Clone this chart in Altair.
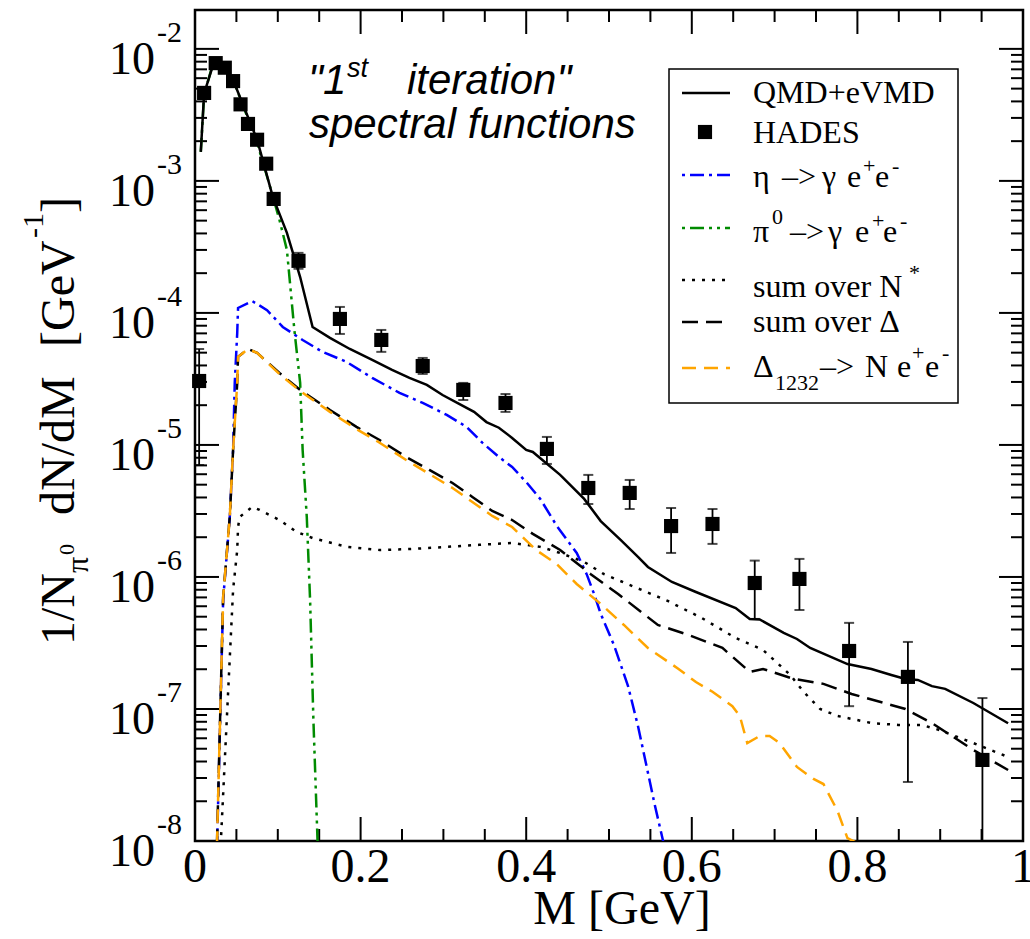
import altair as alt
import pandas as pd

# ---------------- data ----------------
# HADES data points
hades_M = [0.005, 0.011, 0.025, 0.036, 0.046, 0.055, 0.064, 0.075, 0.086, 0.095, 0.125,
           0.175, 0.225, 0.275, 0.324, 0.375, 0.425, 0.475, 0.525, 0.575, 0.625,
           0.676, 0.730, 0.790, 0.861, 0.951]
hades_v = [3.05e-5, 4.64e-3, 7.8e-3, 7.2e-3, 5.7e-3, 3.8e-3, 2.7e-3, 2.05e-3, 1.35e-3, 7.3e-4, 2.48e-4,
           9.0e-5, 6.24e-5, 3.96e-5, 2.61e-5, 2.08e-5, 9.33e-6, 4.72e-6, 4.33e-6, 2.43e-6, 2.52e-6,
           9.0e-7, 9.66e-7, 2.75e-7, 1.75e-7, 4.11e-8]
hades_lo = [7.05e-6, 4.64e-3, 7.8e-3, 7.2e-3, 5.7e-3, 3.8e-3, 2.7e-3, 2.05e-3, 1.35e-3, 7.0e-4, 2.16e-4,
            6.93e-5, 5.07e-5, 3.45e-5, 2.19e-5, 1.78e-5, 7.18e-6, 3.57e-6, 3.27e-6, 1.52e-6, 1.78e-6,
            4.81e-7, 5.62e-7, 1.05e-7, 2.8e-8, 1.0e-9]
hades_hi = [5.33e-5, 4.64e-3, 7.8e-3, 7.2e-3, 5.7e-3, 3.8e-3, 2.7e-3, 2.05e-3, 1.35e-3, 7.6e-4, 2.85e-4,
            1.11e-4, 7.43e-5, 4.56e-5, 2.95e-5, 2.43e-5, 1.15e-5, 5.93e-6, 5.43e-6, 3.33e-6, 3.27e-6,
            1.33e-6, 1.37e-6, 4.49e-7, 3.22e-7, 1.21e-7]

# QMD+eVMD (total)
qmd_M = [0.007, 0.011, 0.022, 0.034, 0.046, 0.075, 0.094, 0.111, 0.127, 0.142, 0.163, 0.187, 0.214,
         0.238, 0.259, 0.280, 0.299, 0.319, 0.337, 0.352, 0.367, 0.383, 0.400, 0.408, 0.441,
         0.470, 0.490, 0.514, 0.535, 0.547, 0.576, 0.605, 0.653, 0.670, 0.682, 0.711, 0.727,
         0.743, 0.788, 0.817, 0.841, 0.858, 0.873, 0.890, 0.906, 0.940, 0.982]
qmd_v = [1.66e-3, 4.6e-3, 7.6e-3, 7.0e-3, 5.82e-3, 2.05e-3, 7.57e-4, 4.04e-4, 1.87e-4, 7.83e-5,
         6.47e-5, 5.33e-5, 4.41e-5, 3.70e-5, 3.22e-5, 2.85e-5, 2.39e-5, 2.05e-5, 1.78e-5, 1.49e-5,
         1.35e-5, 1.13e-5, 9.16e-6, 8.85e-6, 5.93e-6, 3.90e-6, 2.65e-6, 1.91e-6, 1.42e-6, 1.19e-6,
         9.16e-7, 7.69e-7, 5.82e-7, 4.81e-7, 4.76e-7, 3.77e-7, 3.39e-7, 2.90e-7, 2.19e-7, 2.01e-7,
         1.81e-7, 1.69e-7, 1.66e-7, 1.49e-7, 1.42e-7, 1.11e-7, 7.8e-8]

# eta -> gamma e+ e-
eta_M = [0.0265, 0.034, 0.042, 0.046, 0.048, 0.051, 0.052, 0.069, 0.087, 0.106, 0.130, 0.154,
         0.183, 0.214, 0.247, 0.275, 0.304, 0.328, 0.347, 0.367, 0.383, 0.401, 0.417, 0.437,
         0.461, 0.473, 0.482, 0.490, 0.506, 0.523, 0.535, 0.543, 0.555, 0.567]
eta_v = [8.5e-9, 6.70e-7, 2.85e-6, 9.16e-6, 2.95e-5, 7.05e-5, 1.09e-4, 1.23e-4, 1.05e-4, 7.83e-5,
         6.24e-5, 5.07e-5, 4.26e-5, 3.22e-5, 2.48e-5, 2.08e-5, 1.69e-5, 1.37e-5, 1.04e-5, 8.11e-6,
         6.81e-6, 5.15e-6, 3.90e-6, 2.43e-6, 1.52e-6, 1.05e-6, 7.43e-7, 5.25e-7, 3.05e-7, 1.49e-7,
         7.43e-8, 4.33e-8, 1.91e-8, 9.0e-9]

# pi0 -> gamma e+ e-
pi0_M = [0.007, 0.011, 0.022, 0.033, 0.046, 0.060, 0.075, 0.090, 0.102, 0.111, 0.120, 0.127,
         0.130, 0.135, 0.139, 0.143, 0.148]
pi0_v = [1.66e-3, 4.5e-3, 7.83e-3, 7.18e-3, 5.82e-3, 3.45e-3, 1.94e-3, 9.33e-4, 5.07e-4, 3.00e-4,
         7.43e-5, 2.95e-5, 9.16e-6, 2.85e-6, 6.70e-7, 8.26e-8, 1.0e-8]

# sum over N*
nstar_M = [0.031, 0.046, 0.051, 0.052, 0.054, 0.069, 0.078, 0.102, 0.123, 0.142, 0.183, 0.223,
           0.263, 0.304, 0.343, 0.383, 0.417, 0.441, 0.470, 0.494, 0.531, 0.571, 0.612, 0.653,
           0.686, 0.702, 0.719, 0.735, 0.755, 0.776, 0.817, 0.849, 0.878, 0.899, 0.940, 0.982]
nstar_v = [9.3e-9, 7.98e-7, 1.60e-6, 2.39e-6, 2.85e-6, 3.39e-6, 3.22e-6, 2.70e-6, 2.19e-6, 1.97e-6,
           1.69e-6, 1.60e-6, 1.63e-6, 1.69e-6, 1.75e-6, 1.81e-6, 1.69e-6, 1.52e-6, 1.30e-6, 1.05e-6,
           8.39e-7, 6.58e-7, 4.89e-7, 3.45e-7, 2.80e-7, 2.27e-7, 1.81e-7, 1.35e-7, 1.00e-7, 8.85e-8,
           7.83e-8, 7.57e-8, 7.57e-8, 6.93e-8, 5.52e-8, 4.33e-8]

# sum over Delta
dsum_M = [0.0265, 0.034, 0.042, 0.046, 0.051, 0.052, 0.064, 0.075, 0.102, 0.127, 0.163, 0.195,
          0.223, 0.255, 0.283, 0.311, 0.335, 0.359, 0.383, 0.408, 0.441, 0.478, 0.511, 0.559,
          0.596, 0.637, 0.670, 0.686, 0.723, 0.759, 0.793, 0.858, 0.890, 0.940, 0.982]
dsum_v = [9.3e-9, 7.05e-7, 2.85e-6, 9.16e-6, 2.95e-5, 4.65e-5, 5.33e-5, 4.98e-5, 3.51e-5, 2.61e-5,
          1.84e-5, 1.37e-5, 1.09e-5, 8.11e-6, 6.47e-6, 5.15e-6, 4.04e-6, 3.16e-6, 2.70e-6, 2.12e-6,
          1.60e-6, 1.05e-6, 7.43e-7, 4.33e-7, 3.64e-7, 2.90e-7, 1.91e-7, 2.01e-7, 1.69e-7, 1.55e-7,
          1.30e-7, 1.00e-7, 7.83e-8, 4.89e-8, 3.45e-8]

# Delta(1232) -> N e+ e-
d1232_M = [0.0265, 0.034, 0.042, 0.046, 0.051, 0.052, 0.064, 0.075, 0.102, 0.127, 0.163, 0.195,
           0.223, 0.255, 0.283, 0.311, 0.335, 0.359, 0.383, 0.412, 0.437, 0.461, 0.490, 0.518,
           0.547, 0.584, 0.605, 0.625, 0.649, 0.658, 0.667, 0.682, 0.694, 0.706, 0.727, 0.747,
           0.759, 0.776, 0.788, 0.800, 0.806]
d1232_v = [9.3e-9, 7.05e-7, 2.85e-6, 9.16e-6, 2.95e-5, 4.65e-5, 5.33e-5, 4.98e-5, 3.45e-5, 2.56e-5,
           1.78e-5, 1.32e-5, 1.04e-5, 7.69e-6, 6.03e-6, 4.72e-6, 3.70e-6, 2.90e-6, 2.39e-6, 1.60e-6,
           1.25e-6, 8.85e-7, 6.24e-7, 4.33e-7, 2.90e-7, 2.01e-7, 1.60e-7, 1.35e-7, 1.05e-7, 8.85e-8,
           5.52e-8, 6.24e-8, 6.24e-8, 5.52e-8, 3.64e-8, 2.95e-8, 2.70e-8, 1.69e-8, 1.05e-8, 9.66e-9,
           8.5e-9]

# axis ticks / labels
x_major = [0.0, 0.2, 0.4, 0.6, 0.8, 1.0]
x_major_labels = ["0", "0.2", "0.4", "0.6", "0.8", "1"]
x_minor = [0.05, 0.1, 0.15, 0.25, 0.3, 0.35, 0.45, 0.5, 0.55, 0.65, 0.7, 0.75, 0.85, 0.9, 0.95]
y_major = [1e-8, 1e-7, 1e-6, 1e-5, 1e-4, 1e-3, 1e-2]
y_major_exp = ["-8", "-7", "-6", "-5", "-4", "-3", "-2"]
y_minor = [k * d for d in [1e-8, 1e-7, 1e-6, 1e-5, 1e-4, 1e-3] for k in range(2, 10)]

# ---------------- chart ----------------
W, H = 828, 831
SERIF = "Liberation Serif"
SANS = "Liberation Sans"

xscale = alt.Scale(domain=[0, 1], nice=False, zero=False)
yscale = alt.Scale(type="log", domain=[1e-8, 0.0197], nice=False)


def X(f):
    return alt.X(f, type="quantitative", scale=xscale, axis=None)


def Y(f):
    return alt.Y(f, type="quantitative", scale=yscale, axis=None)


one = pd.DataFrame({"k": [0]})


def txt(s, x, y, size, font=SERIF, style="normal", angle=0, align="left", baseline="alphabetic"):
    return alt.Chart(one).mark_text(
        text=s, fontSize=size, font=font, fontStyle=style, angle=angle,
        align=align, baseline=baseline, color="black"
    ).encode(x=alt.value(x), y=alt.value(y))


def curve(m, v, color, dash=None, width=2.5):
    df = pd.DataFrame({"M": m, "v": v})
    kw = dict(clip=True, color=color, strokeWidth=width)
    if dash:
        kw["strokeDash"] = dash
    return alt.Chart(df).mark_line(**kw).encode(x=X("M"), y=Y("v"))


layers = []

# ticks (inward) on all four sides
xmaj = pd.DataFrame({"M": x_major})
xmin = pd.DataFrame({"M": x_minor})
ymaj = pd.DataFrame({"v": y_major, "e": y_major_exp})
ymin = pd.DataFrame({"v": y_minor})
tick = dict(color="black", strokeWidth=2)
layers += [
    alt.Chart(xmaj).mark_rule(**tick).encode(x=X("M"), y=alt.value(H), y2=alt.value(H - 24)),
    alt.Chart(xmaj).mark_rule(**tick).encode(x=X("M"), y=alt.value(0), y2=alt.value(24)),
    alt.Chart(xmin).mark_rule(**tick).encode(x=X("M"), y=alt.value(H), y2=alt.value(H - 12)),
    alt.Chart(xmin).mark_rule(**tick).encode(x=X("M"), y=alt.value(0), y2=alt.value(12)),
    alt.Chart(ymaj).mark_rule(**tick).encode(y=Y("v"), x=alt.value(0), x2=alt.value(24)),
    alt.Chart(ymaj).mark_rule(**tick).encode(y=Y("v"), x=alt.value(W), x2=alt.value(W - 24)),
    alt.Chart(ymin).mark_rule(**tick).encode(y=Y("v"), x=alt.value(0), x2=alt.value(12)),
    alt.Chart(ymin).mark_rule(**tick).encode(y=Y("v"), x=alt.value(W), x2=alt.value(W - 12)),
]

# tick labels
xl = pd.DataFrame({"M": x_major, "lab": x_major_labels})
layers.append(
    alt.Chart(xl).mark_text(font=SERIF, fontSize=48, align="center", baseline="alphabetic", color="black")
    .encode(x=X("M"), y=alt.value(872), text="lab:N")
)
layers.append(
    alt.Chart(ymaj).mark_text(text="10", font=SERIF, fontSize=46, align="right", baseline="alphabetic",
                              dy=25, color="black")
    .encode(y=Y("v"), x=alt.value(-40))
)
layers.append(
    alt.Chart(ymaj).mark_text(font=SERIF, fontSize=30, align="left", baseline="alphabetic",
                              dy=-7, color="black")
    .encode(y=Y("v"), x=alt.value(-38), text="e:N")
)

# axis titles
layers.append(txt("M [GeV]", 427, 914, 48, align="center"))
layers += [
    txt("1/N", -121, 635, 48, angle=270),
    txt("π", -107, 563, 32, angle=270),
    txt("0", -121, 545, 22, angle=270),
    txt("dN/dM", -121, 505, 48, angle=270),
    txt("[GeV", -121, 337, 48, angle=270),
    txt("-1", -152, 228, 30, angle=270),
    txt("]", -121, 203, 48, angle=270),
]

# curves
BLUE, GREEN, ORANGE = "#0000ff", "#008b00", "#ffa500"
layers += [
    curve(nstar_M, nstar_v, "black", dash=[3, 7]),
    curve(eta_M, eta_v, BLUE, dash=[14, 5, 3, 5]),
    curve(pi0_M, pi0_v, GREEN, dash=[14, 5, 3, 5, 3, 5]),
    curve(dsum_M, dsum_v, "black", dash=[16, 8]),
    curve(d1232_M, d1232_v, ORANGE, dash=[14, 8]),
    curve(qmd_M, qmd_v, "black", width=2.5),
]

# HADES points with error bars
hd = pd.DataFrame({"M": hades_M, "v": hades_v, "lo": hades_lo, "hi": hades_hi})
layers += [
    alt.Chart(hd).mark_rule(color="black", strokeWidth=1.8, clip=True)
    .encode(x=X("M"), y=Y("lo"), y2="hi:Q"),
    alt.Chart(hd).mark_tick(color="black", orient="horizontal", size=10, thickness=2, clip=True)
    .encode(x=X("M"), y=Y("lo")),
    alt.Chart(hd).mark_tick(color="black", orient="horizontal", size=10, thickness=2, clip=True)
    .encode(x=X("M"), y=Y("hi")),
    alt.Chart(hd).mark_square(color="black", size=200, opacity=1)
    .encode(x=X("M"), y=Y("v")),
]

# annotation
layers += [
    txt('"1', 113, 84, 42, font=SANS, style="italic"),
    txt("st", 152, 67, 27, font=SANS, style="italic"),
    txt('iteration"', 212, 84, 42, font=SANS, style="italic"),
    txt("spectral functions", 114, 128, 42, font=SANS, style="italic"),
]

# legend box
layers.append(
    alt.Chart(one).mark_rect(fill="white", stroke="black", strokeWidth=1.5)
    .encode(x=alt.value(474), x2=alt.value(763), y=alt.value(59), y2=alt.value(393))
)


def sample(y, color, dash=None, width=2.5):
    kw = dict(color=color, strokeWidth=width)
    if dash:
        kw["strokeDash"] = dash
    return alt.Chart(one).mark_rule(**kw).encode(x=alt.value(487), x2=alt.value(535), y=alt.value(y))


layers += [
    sample(83, "black"),
    alt.Chart(one).mark_square(color="black", size=200, opacity=1).encode(x=alt.value(510), y=alt.value(122)),
    sample(165, BLUE, [3, 5, 14, 5]),
    sample(218, GREEN, [3, 5, 14, 5, 3, 5]),
    sample(270, "black", [3, 7]),
    sample(312, "black", [16, 8]),
    sample(358, ORANGE, [14, 8]),
]

LF = 32
layers += [
    txt("QMD+eVMD", 558, 93, LF),
    txt("HADES", 558, 133, LF),
    # eta row
    txt("η", 558, 177, LF), txt("–>", 587, 177, LF), txt("γ", 627, 177, LF),
    txt("e", 652, 177, LF), txt("+", 668, 163, 22), txt("e", 680, 177, LF), txt("-", 697, 163, 22),
    # pi0 row
    txt("π", 558, 232, LF), txt("0", 577, 214, 22), txt("–>", 595, 232, LF), txt("γ", 633, 232, LF),
    txt("e", 660, 232, LF), txt("+", 677, 218, 22), txt("e", 688, 232, LF), txt("-", 705, 218, 22),
    # N*
    txt("sum over N", 558, 287, LF), txt("*", 714, 270, 22),
    # Delta
    txt("sum over Δ", 558, 322, LF),
    # Delta1232
    txt("Δ", 558, 367, LF), txt("1232", 580, 380, 22), txt("–>", 625, 367, LF),
    txt("N", 670, 367, LF), txt("e", 702, 367, LF), txt("+", 717, 350, 22),
    txt("e", 730, 367, LF), txt("-", 747, 350, 22),
]

chart = alt.layer(*layers).properties(
    width=W, height=H,
    autosize=alt.AutoSizeParams(type="none"),
    padding={"left": 195, "top": 10, "right": 7, "bottom": 98},
    background="white",
).configure_view(stroke="black", strokeWidth=2.5)

chart.save("out.html", embed_options={"renderer": "svg", "actions": False})
